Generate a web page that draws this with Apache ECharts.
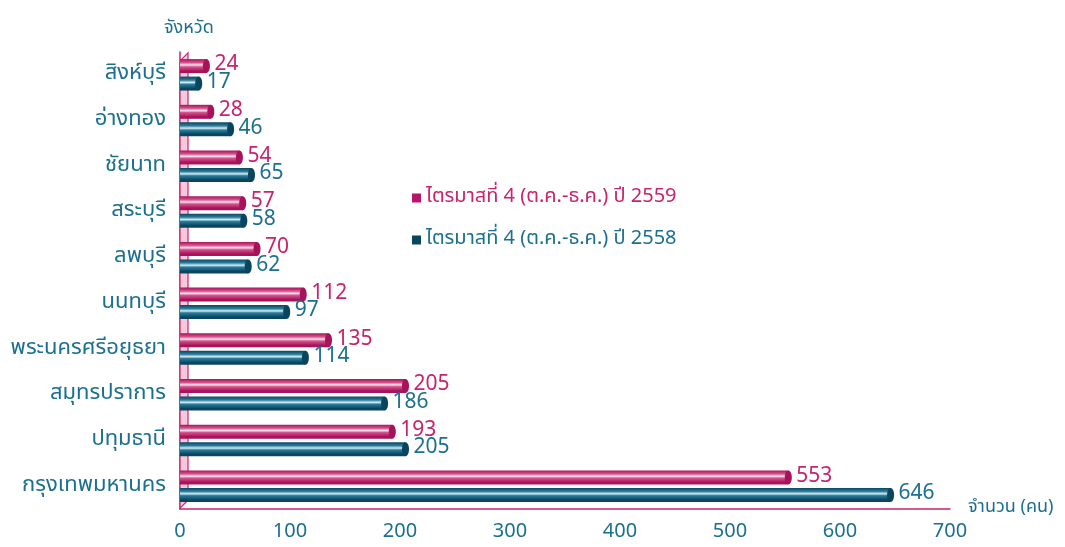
<!DOCTYPE html>
<html><head><meta charset="utf-8">
<script src="https://cdn.jsdelivr.net/npm/echarts@6/dist/echarts.min.js"></script>
<style>html,body{margin:0;padding:0;background:#fff}#c{width:1065px;height:547px}</style>
</head><body><div id="c"></div>
<script>
const provinces = ['สิงห์บุรี','อ่างทอง','ชัยนาท','สระบุรี','ลพบุรี','นนทบุรี','พระนครศรีอยุธยา','สมุทรปราการ','ปทุมธานี','กรุงเทพมหานคร'];
const q4_2559 = [24, 28, 54, 57, 70, 112, 135, 205, 193, 553];
const q4_2558 = [17, 46, 65, 58, 62, 97, 114, 186, 205, 646];
const xTicks = [0,100,200,300,400,500,600,700];
const name2559 = 'ไตรมาสที่ 4 (ต.ค.-ธ.ค.) ปี 2559';
const name2558 = 'ไตรมาสที่ 4 (ต.ค.-ธ.ค.) ปี 2558';

const PINK='#c8246e', PINKD='#a8125a', BLUE='#0e5f80', BLUED='#0a4560', TXTB='#1b6f8f';
const FONT="'Noto Sans Thai','Noto Sans','DejaVu Sans',sans-serif";
function cyl(dark, mid, light){
  return new echarts.graphic.LinearGradient(0,0,0,1,[
    {offset:0,color:dark},{offset:0.25,color:mid},{offset:0.42,color:light},
    {offset:0.55,color:mid},{offset:0.85,color:dark},{offset:1,color:dark}]);
}
const chart = echarts.init(document.getElementById('c'));
chart.setOption({
  animation:false,
  backgroundColor:'#fff',
  textStyle:{fontFamily:FONT},
  grid:{left:180,right:115,top:52,bottom:38},
  legend:{
    orient:'vertical', left:407, top:183, itemGap:22,
    itemWidth:9, itemHeight:9, icon:'rect',
    data:[{name:name2559,textStyle:{color:PINK},itemStyle:{color:'#b5156a'}},
          {name:name2558,textStyle:{color:TXTB},itemStyle:{color:BLUED}}],
    textStyle:{fontSize:20,fontFamily:FONT}
  },
  xAxis:{
    type:'value', min:0, max:700, interval:100,
    name:'จำนวน (คน)', nameLocation:'end', nameGap:18,
    nameTextStyle:{color:TXTB,fontSize:18,verticalAlign:'top',padding:[-10,0,0,0]},
    axisLine:{show:true,lineStyle:{color:PINK,width:1.5}},
    axisTick:{show:false}, splitLine:{show:false},
    axisLabel:{color:TXTB,fontSize:20,margin:14,
      formatter:v=>xTicks.includes(v)?String(v):''}
  },
  yAxis:{
    type:'category', data:provinces, inverse:true,
    name:'จังหวัด', nameLocation:'start', nameGap:14,
    nameTextStyle:{color:TXTB,fontSize:18,align:'left',padding:[0,0,0,-16]},
    axisLine:{show:true,lineStyle:{color:PINK,width:1.5}},
    axisTick:{show:false},
    axisLabel:{color:TXTB,fontSize:22,margin:14}
  },
  series:[
    {name:name2559,type:'bar',data:q4_2559,barWidth:14,barGap:'25%',
     itemStyle:{color:cyl(PINKD,'#d3558e','#fbe3ee')},
     label:{show:true,position:'right',distance:8,color:PINK,fontSize:21,fontFamily:FONT},
     z:2},
    {name:name2558,type:'bar',data:q4_2558,barWidth:14,
     itemStyle:{color:cyl(BLUED,'#2a7d9c','#d6ecf3')},
     label:{show:true,position:'right',distance:8,color:TXTB,fontSize:21,fontFamily:FONT},
     z:2}
  ]
});
// end caps and wall drawn after layout
function decorate(){
  const wallTop = chart.convertToPixel({yAxisIndex:0}, provinces[0]) - 22;
  const wallBot = chart.convertToPixel({yAxisIndex:0}, provinces[provinces.length-1]) + 22;
  const x0 = chart.convertToPixel({xAxisIndex:0}, 0);
  const els=[{type:'polygon',z:1,shape:{points:[[x0,wallTop+8],[x0+8,wallTop],[x0+8,wallBot-8],[x0,wallBot]]},
    style:{fill:'#f4cadb',stroke:PINK,lineWidth:1.2}}];
  const w = 14, gapPx = 3.5;
  provinces.forEach((p,i)=>{
    const cy = chart.convertToPixel({yAxisIndex:0}, p);
    [[q4_2559[i],cy-(w+gapPx)/2,PINKD],[q4_2558[i],cy+(w+gapPx)/2,BLUED]].forEach(([v,y,c])=>{
      const x = chart.convertToPixel({xAxisIndex:0}, v);
      els.push({type:'ellipse',z:100,shape:{cx:x,cy:y,rx:3.5,ry:w/2},style:{fill:c}});
    });
  });
  chart.setOption({graphic:els});
}
decorate();
</script></body></html>
